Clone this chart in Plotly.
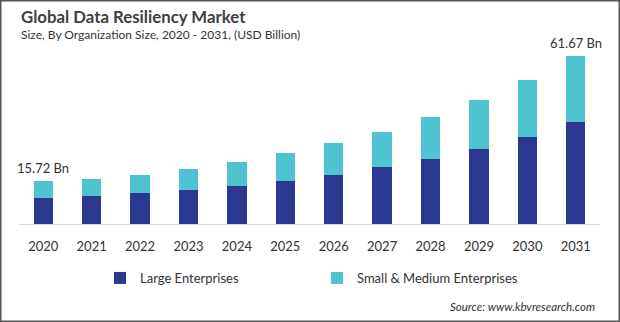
import plotly.graph_objects as go

years = ["2020", "2021", "2022", "2023", "2024", "2025", "2026", "2027", "2028", "2029", "2030", "2031"]
large_ent = [9.5, 10.3, 11.4, 12.5, 14.0, 15.8, 18.0, 20.9, 23.9, 27.5, 31.9, 37.6]
small_med = [6.22, 6.2, 6.6, 7.7, 8.8, 10.3, 11.7, 12.9, 15.4, 18.0, 21.0, 24.07]
label_years = ["2020", "2031"]
label_texts = ["15.72 Bn", "61.67 Bn"]

W, H = 620, 322
L, R, T, B = 19, 20, 50, 98
PW, PH = W - L - R, H - T - B
YMAX = PH / 2.724

def px(x):
    return (x - L) / PW

def py(y):
    return (T + PH - y) / PH

FONT = "Lato"
DARK = "#2B388F"
LIGHT = "#4FC3CF"

fig = go.Figure()
fig.add_trace(go.Bar(x=years, y=large_ent, name="Large Enterprises",
                     marker=dict(color=DARK, line=dict(width=0))))
fig.add_trace(go.Bar(x=years, y=small_med, name="Small & Medium Enterprises",
                     marker=dict(color=LIGHT, line=dict(width=0))))

totals = [a + b for a, b in zip(large_ent, small_med)]
annotations = []
for yr, txt in zip(label_years, label_texts):
    i = years.index(yr)
    annotations.append(dict(x=i, y=totals[i], xref="x", yref="y", text=txt,
                            showarrow=False, yanchor="bottom", yshift=3,
                            font=dict(family=FONT, size=13, color="#333333")))

annotations += [
    dict(x=px(19), y=py(17), xref="paper", yref="paper", xanchor="left", yanchor="middle",
         text="<b>Global Data Resiliency Market</b>", showarrow=False,
         font=dict(family=FONT, size=16.8, color="#404040")),
    dict(x=px(19), y=py(35), xref="paper", yref="paper", xanchor="left", yanchor="middle",
         text="Size, By Organization Size, 2020 - 2031, (USD Billion)", showarrow=False,
         font=dict(family=FONT, size=12, color="#333333")),
    dict(x=px(597), y=py(306), xref="paper", yref="paper", xanchor="right", yanchor="middle",
         text="<i>Source: www.kbvresearch.com</i>", showarrow=False,
         font=dict(family=FONT, size=11.5, color="#333333")),
]

fig.update_layout(
    width=W, height=H,
    margin=dict(l=L, r=R, t=T, b=B, pad=0),
    paper_bgcolor="white", plot_bgcolor="white",
    barmode="stack", bargap=0.6,
    showlegend=True,
    legend=dict(orientation="h", x=px(100), y=py(278), xanchor="left", yanchor="middle",
                entrywidth=172, entrywidthmode="pixels", itemwidth=30,
                font=dict(family=FONT, size=13, color="#333333"),
                bgcolor="rgba(0,0,0,0)", traceorder="normal"),
    xaxis=dict(type="category", range=[-0.5, len(years) - 0.5], showgrid=False,
               showline=True, linecolor="#D9D9D9", linewidth=1,
               ticks="", tickfont=dict(family=FONT, size=13, color="#333333"),
               ticklabelstandoff=10, fixedrange=True),
    yaxis=dict(range=[0, YMAX], visible=False, showgrid=False, zeroline=False),
    annotations=annotations,
    shapes=[dict(type="rect", xref="paper", yref="paper",
                 x0=px(0.75), x1=px(W - 0.75), y0=py(H - 0.75), y1=py(0.75),
                 line=dict(color="#555555", width=1.5), layer="above")],
)

fig.write_html("out.html")
